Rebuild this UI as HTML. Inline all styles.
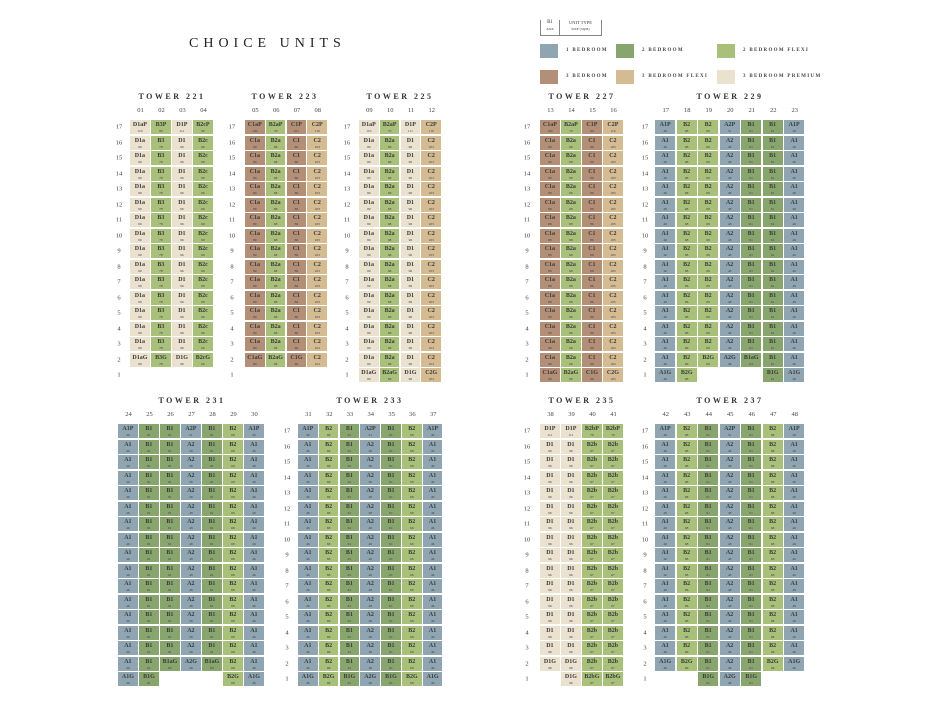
<!DOCTYPE html>
<html><head><meta charset="utf-8">
<style>
body{margin:0;background:#fff;}
#root{position:relative;width:943px;height:717px;overflow:hidden;background:#fff;font-family:"Liberation Serif",serif;color:#333;}
.abs{position:absolute;}
.title{font-size:14px;letter-spacing:5px;color:#222;}
.ttl{font-size:8px;font-weight:bold;letter-spacing:2.5px;color:#333;transform:translateX(-50%);white-space:nowrap;}
.hdr{font-size:6.5px;color:#444;transform:translateX(-50%);}
.fl{font-size:6.5px;color:#444;transform:translate(-50%,-50%);}
.cell{box-sizing:border-box;text-align:center;color:#3a3a3a;}
.cell .c{font-size:6px;font-weight:bold;line-height:7px;margin-top:2px;display:block;}
.cell .s{font-size:3.5px;line-height:4px;display:block;}
.sw{width:18px;height:14px;}
.lg{font-size:5px;letter-spacing:1.3px;font-weight:bold;color:#444;white-space:nowrap;}
</style></head><body>
<div id="root">
<div class="abs title" style="left:189px;top:36px;">CHOICE UNITS</div>
<div class="abs" style="left:540px;top:20px;width:60px;height:15px;border-left:1px solid #888;border-right:1px solid #888;border-bottom:1px solid #888;">
 <div class="abs" style="left:0;top:0;width:18px;height:15px;border-right:1px solid #888;text-align:center;font-size:5px;line-height:6px;">B1<br><span style="font-size:3.5px">XXX</span></div>
 <div class="abs" style="left:19px;top:0;width:41px;text-align:center;font-size:4.5px;line-height:6px;">UNIT TYPE<br><span style="font-size:3.5px">SIZE (SQM)</span></div>
</div>
<div id="legend"></div>
<div id="grid"></div>
</div>
<script>
const colors={A:'#8fa6b2',B1:'#88a56e',BF:'#a8c07a',C:'#b48f77',CF:'#d4bb92',D:'#ebe1cf'};
const legendLabels=['1 BEDROOM','2 BEDROOM','2 BEDROOM FLEXI','3 BEDROOM','3 BEDROOM FLEXI','3 BEDROOM PREMIUM'];
const legendKeys=['A','B1','BF','C','CF','D'];
const sizes={A1:46,A2:48,B1:61,B1a:63,B2:68,B2a:68,B2b:67,B2c:69,B3:78,C1:86,C1a:89,C2:103,D1:96,D1a:99};
const premiumSizes={A1P:49,A2P:51,B3P:80,B2cP:80,B2aP:70,B2bP:70,C1aP:100,C1P:101,C2P:116,D1aP:110,D1P:111};
function typeColor(code){
 const b=code.replace(/(P|G)$/,'').replace(/G$/,'');
 if(b[0]==='A')return colors.A;
 if(b.startsWith('B1'))return colors.B1;
 if(b[0]==='B')return colors.BF;
 if(b.startsWith('C2'))return colors.CF;
 if(b[0]==='C')return colors.C;
 return colors.D;
}
function sizeOf(code){
 if(premiumSizes[code])return premiumSizes[code];
 const b=code.replace(/G$/,'');
 return sizes[b]||'';
}
const towerNames=['221','223','225','227','229','231','233','235','237'];
const towerCols=[['01','02','03','04'],['05','06','07','08'],['09','10','11','12'],['13','14','15','16'],['17','18','19','20','21','22','23'],['24','25','26','27','28','29','30'],['31','32','33','34','35','36','37'],['38','39','40','41'],['42','43','44','45','46','47','48']];
const towerTop=[['D1aP','B3P','D1P','B2cP'],['C1aP','B2aP','C1P','C2P'],['D1aP','B2aP','D1P','C2P'],['C1aP','B2aP','C1P','C2P'],['A1P','B2','B2','A2P','B1','B1','A1P'],['A1P','B1','B1','A2P','B1','B2','A1P'],['A1P','B2','B1','A2P','B1','B2','A1P'],['D1P','D1P','B2bP','B2bP'],['A1P','B2','B1','A2P','B1','B2','A1P']];
const towerRegular=[['D1a','B3','D1','B2c'],['C1a','B2a','C1','C2'],['D1a','B2a','D1','C2'],['C1a','B2a','C1','C2'],['A1','B2','B2','A2','B1','B1','A1'],['A1','B1','B1','A2','B1','B2','A1'],['A1','B2','B1','A2','B1','B2','A1'],['D1','D1','B2b','B2b'],['A1','B2','B1','A2','B1','B2','A1']];
const towerFloor2=[['D1aG','B3G','D1G','B2cG'],['C1aG','B2aG','C1G','C2'],['D1a','B2a','D1','C2'],['C1a','B2a','C1','C2'],['A1','B2','B2G','A2G','B1aG','B1','A1'],['A1','B1','B1aG','A2G','B1aG','B2','A1'],['A1','B2','B1','A2','B1','B2','A1'],['D1G','D1G','B2b','B2b'],['A1G','B2G','B1','A2','B1','B2G','A1G']];
const towerFloor1=[['','','',''],['','','',''],['D1aG','B2aG','D1G','C2G'],['C1aG','B2aG','C1G','C2G'],['A1G','B2G','','','','B1G','A1G'],['A1G','B1G','','','','B2G','A1G'],['A1G','B2G','B1G','A2G','B1G','B2G','A1G'],['','D1G','B2bG','B2bG'],['','','B1G','A2G','B1G','','']];
const layout=[
 {x:130,y:120,p:21,lab:119,tx:172},{x:245,y:120,p:20.8,lab:232,tx:285},{x:359,y:120,p:20.8,lab:347,tx:400},{x:540,y:120,p:21,lab:527,tx:582},{x:655,y:120,p:21.5,lab:645,tx:730},
 {x:118,y:424,p:21,lab:null,tx:192},{x:298,y:424,p:20.8,lab:287,tx:370},{x:540,y:424,p:21,lab:527,tx:582},{x:655,y:424,p:21.5,lab:645,tx:730}];
const rowP=15.5,cellH=14.2;
const grid=document.getElementById('grid');
function add(parent,html,style,cls){const d=document.createElement('div');d.className='abs '+(cls||'');d.style.cssText=style;d.innerHTML=html;parent.appendChild(d);return d;}
towerNames.forEach((name,t)=>{
 const L=layout[t];
 const g=document.createElement('div');
 
 
 grid.appendChild(g);
 const ti=add(g,'TOWER '+name,'left:'+L.tx+'px;top:'+(L.y-28)+'px;','ttl');
 
 
 towerCols[t].forEach((c,i)=>{
  const h=add(g,c,'left:'+(L.x+i*L.p+L.p/2)+'px;top:'+(L.y-13)+'px;','hdr');
  
  
 });
 for(let f=17;f>=1;f--){
  const y=L.y+(17-f)*rowP;
  if(L.lab!==null){
   const fl=add(g,String(f),'left:'+L.lab+'px;top:'+(y+cellH/2)+'px;','fl');
   
   
  }
  const row=f===17?towerTop[t]:f===2?towerFloor2[t]:f===1?towerFloor1[t]:towerRegular[t];
  row.forEach((code,i)=>{
   if(!code)return;
   const cell=add(g,'<span class="c">'+code+'</span><span class="s">'+sizeOf(code)+'</span>','left:'+(L.x+i*L.p)+'px;top:'+y+'px;width:'+(L.p-1.2)+'px;height:'+cellH+'px;background:'+typeColor(code)+';','cell');
   
   
  });
 }
});
const lg=document.getElementById('legend');
const lgPos=[[540,44],[616,44],[717,44],[540,70],[616,70],[717,70]];
legendKeys.forEach((k,i)=>{
 const [x,y]=lgPos[i];
 const s=add(lg,'','left:'+x+'px;top:'+y+'px;background:'+colors[k]+';','sw');
 
 
 const t=add(lg,legendLabels[i],'left:'+(x+26)+'px;top:'+(y+4)+'px;','lg');
 
 
});
</script>
</body></html>
